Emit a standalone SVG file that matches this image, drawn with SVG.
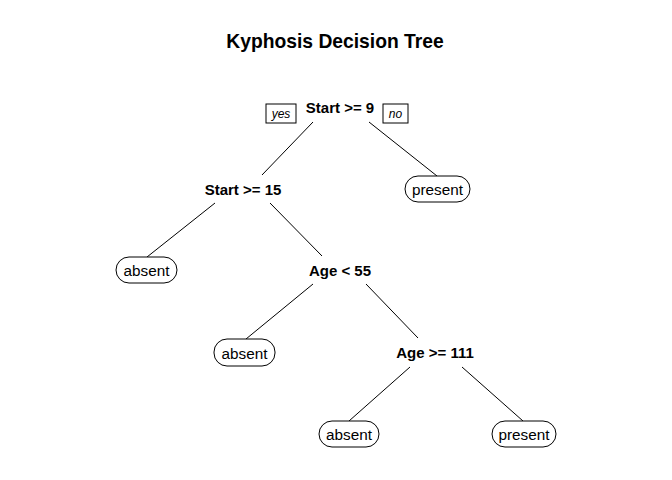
<svg xmlns="http://www.w3.org/2000/svg" width="672" height="480" viewBox="0 0 672 480">
<style>
text{font-family:"Liberation Sans",Arial,sans-serif;fill:#000}
.title{font-size:19.3px;font-weight:bold}
.split{font-size:15px;font-weight:bold}
.leaf{font-size:15.3px}
.lab{font-size:12px;font-style:italic}
.box{fill:#fff;stroke:#000;stroke-width:1}
.edge{stroke:#000;stroke-width:1;fill:none}
</style>
<rect width="672" height="480" fill="#fff"/>
<text class="title" x="335" y="48" text-anchor="middle">Kyphosis Decision Tree</text>
<g id="connectors">
<line class="edge" x1="313" y1="122" x2="262" y2="175"/>
<line class="edge" x1="369" y1="122" x2="437" y2="176"/>
<line class="edge" x1="215" y1="203" x2="147" y2="257"/>
<line class="edge" x1="270" y1="203" x2="322" y2="256"/>
<line class="edge" x1="313" y1="284" x2="246" y2="339"/>
<line class="edge" x1="366" y1="284" x2="418" y2="338"/>
<line class="edge" x1="410" y1="367" x2="349" y2="421"/>
<line class="edge" x1="462" y1="367" x2="523" y2="421"/>
</g>
<g id="n1">
<text class="split" x="340" y="113" text-anchor="middle">Start &gt;= 9</text>
<rect class="box" x="266" y="104" width="30" height="19"/>
<text class="lab" x="281" y="118" text-anchor="middle">yes</text>
<rect class="box" x="383" y="104" width="25" height="19"/>
<text class="lab" x="395.5" y="118" text-anchor="middle">no</text>
</g>
<g id="n2">
<text class="split" x="243" y="195" text-anchor="middle">Start &gt;= 15</text>
</g>
<g id="n3">
<rect class="box" x="405" y="176" width="65" height="26" rx="13" ry="13"/>
<text class="leaf" x="437.5" y="195" text-anchor="middle">present</text>
</g>
<g id="n4">
<rect class="box" x="116" y="257" width="61" height="26" rx="13" ry="13"/>
<text class="leaf" x="146.5" y="276" text-anchor="middle">absent</text>
</g>
<g id="n5">
<text class="split" x="340" y="276" text-anchor="middle">Age &lt; 55</text>
</g>
<g id="n6">
<rect class="box" x="214" y="339" width="61" height="27" rx="13" ry="13"/>
<text class="leaf" x="244.5" y="359" text-anchor="middle">absent</text>
</g>
<g id="n7">
<text class="split" x="435" y="358" text-anchor="middle">Age &gt;= 111</text>
</g>
<g id="n8">
<rect class="box" x="319" y="421" width="60" height="26" rx="13" ry="13"/>
<text class="leaf" x="349" y="440" text-anchor="middle">absent</text>
</g>
<g id="n9">
<rect class="box" x="492" y="421" width="64" height="26" rx="13" ry="13"/>
<text class="leaf" x="524" y="440" text-anchor="middle">present</text>
</g>
</svg>
